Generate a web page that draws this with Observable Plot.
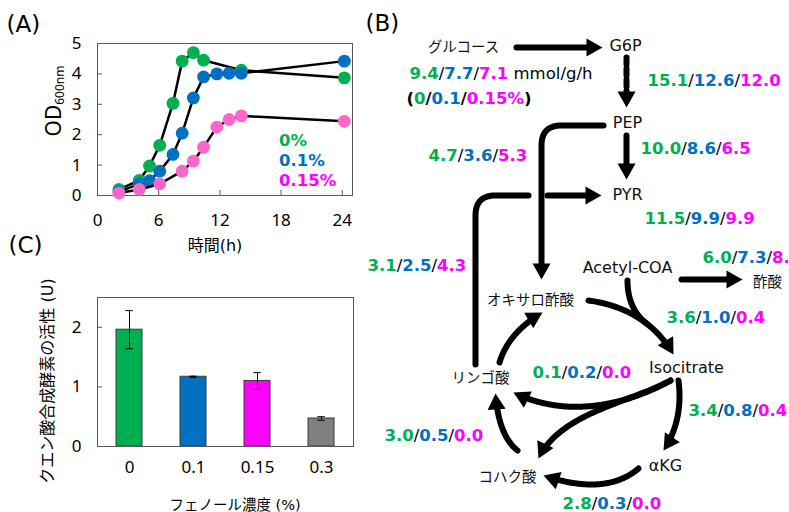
<!DOCTYPE html>
<html><head><meta charset="utf-8">
<script src="https://cdn.jsdelivr.net/npm/d3@7"></script>
<script src="https://cdn.jsdelivr.net/npm/@observablehq/plot@0.6"></script>
<style>
html,body{margin:0;padding:0;background:#fff;overflow:hidden;}
#fig{position:relative;width:789px;height:512px;overflow:hidden;background:#fff;}
#fig svg{position:absolute;max-width:none;overflow:visible;}
</style></head><body><div id="fig"></div>
<script>
// ================= Panel A: growth (OD600nm vs time) =================
const timeGreen = [2.1, 4.1, 5.1, 6.1, 7.4, 8.3, 9.4, 10.4, 14.1, 24.2];
const odGreen   = [0.2, 0.5, 0.97, 1.65, 3.03, 4.42, 4.7, 4.45, 4.12, 3.87];
const timeBlue  = [2.1, 4.1, 5.1, 6.1, 7.4, 8.3, 9.4, 10.4, 11.7, 12.9, 14.1, 24.2];
const odBlue    = [0.12, 0.38, 0.49, 0.8, 1.35, 2.05, 3.21, 3.9, 4.0, 4.02, 4.02, 4.42];
const timePink  = [2.1, 4.1, 6.1, 8.3, 9.4, 10.4, 11.7, 12.9, 14.1, 24.2];
const odPink    = [0.08, 0.2, 0.38, 0.8, 1.13, 1.59, 2.25, 2.5, 2.62, 2.44];
const seriesNamesA = ["0%", "0.1%", "0.15%"];
const xTicksA = [0, 6, 12, 18, 24];
const yTicksA = [0, 1, 2, 3, 4, 5];

// ================= Panel C: citrate synthase activity =================
const concC = ["0", "0.1", "0.15", "0.3"];
const actC  = [1.96, 1.17, 1.10, 0.47];
const errC  = [0.32, 0.01, 0.14, 0.03];
const yTicksC = [0, 1, 2];

// ================= Panel B: metabolic fluxes =================
const nodeNames = ["グルコース", "G6P", "PEP", "PYR", "Acetyl-COA", "酢酸", "オキサロ酢酸", "Isocitrate", "リンゴ酸", "αKG", "コハク酸"];
const fluxGreen = ["9.4", "15.1", "10.0", "4.7", "11.5", "3.1", "6.0", "3.6", "0.1", "3.4", "3.0", "2.8"];
const fluxBlue  = ["7.7", "12.6", "8.6", "3.6", "9.9", "2.5", "7.3", "1.0", "0.2", "0.8", "0.5", "0.3"];
const fluxPink  = ["7.1", "12.0", "6.5", "5.3", "9.9", "4.3", "8.", "0.4", "0.0", "0.4", "0.0", "0.0"];
const fluxUnit = " mmol/g/h";
const legendB = ["0", "0.1", "0.15%"];
const panelLetters = ["(A)", "(B)", "(C)"];

// ---------- styles / layout (kept separate from the values) ----------
const GREEN = "#00B050", BLUE = "#0070C0", MAGENTA = "#FF00FF", PINKDOT = "#FF66CC", GRAY = "#808080";
const dotColorsA = [GREEN, BLUE, PINKDOT];
const textColorsA = [GREEN, BLUE, MAGENTA];
const barColorsC = [GREEN, BLUE, MAGENTA, GRAY];
const FLAT = '"DejaVu Sans"';
const FJP = '"DejaVu Sans","Noto Sans CJK JP"';
const FTICK = '"Noto Sans","DejaVu Sans"';

// diagram layout (pixel positions of the figure)
const nodePos = [[463,47],[625,45],[627,122],[627,194],[627,267],[767,282],[530,300],[686,367],[480,378],[665,465],[507,477]];
const fluxPos = [[409,73],[647,80],[640,148],[428,155],[644,218],[367,265],[702,257],[666,317],[532,372],[688,410],[384,435],[562,503]];
const legendPos = [406,98];
const letterPos = [[6,24],[365,23],[8,245]];
const straightEdges = [
  {v:[[516,47],[602,47]], arrow:true},
  {v:[[626,57],[626,107]], arrow:true, dash:true},
  {v:[[626,135],[626,179]], arrow:true},
  {v:[[603,125],[541,125],[541,279]], arrow:true},
  {v:[[475,364],[475,195],[528,195]], arrow:false},
  {v:[[547,195],[601,195]], arrow:true},
  {v:[[681,279],[742,279]], arrow:true}
];
const curveEdges = [ // bezier control polygons (quadratic or cubic)
  {q:[[588,300],[646,308],[673,354]], arrow:true},
  {q:[[627,280],[627,308],[646,323]], arrow:false},
  {q:[[499,362],[508,332],[542,312]], arrow:true},
  {q:[[670,380],[630,402],[570,420],[513,392]], arrow:true},
  {q:[[670,380],[630,402],[560,412],[538,458]], arrow:true},
  {q:[[678,380],[683,420],[663,450]], arrow:true},
  {q:[[638,468],[605,496],[543,475]], arrow:true},
  {q:[[517,450],[498,435],[495,393]], arrow:true}
];
const HEAD_L = 16, HEAD_W = 9, TRIM = 13, CORNER = 20;

const fig = document.getElementById("fig");

// ---------------- geometry helpers ----------------
function bez(P, t) {
  if (P.length === 3) {
    const [p0, c, p1] = P;
    return [(1-t)*(1-t)*p0[0] + 2*(1-t)*t*c[0] + t*t*p1[0], (1-t)*(1-t)*p0[1] + 2*(1-t)*t*c[1] + t*t*p1[1]];
  }
  const [p0, c1, c2, p1] = P, u = 1 - t;
  const a = u*u*u, b = 3*u*u*t, c = 3*u*t*t, d = t*t*t;
  return [a*p0[0] + b*c1[0] + c*c2[0] + d*p1[0], a*p0[1] + b*c1[1] + c*c2[1] + d*p1[1]];
}
function roundPoly(v, r) {
  const out = [v[0]];
  for (let i = 1; i < v.length - 1; i++) {
    const p = v[i-1], c = v[i], n = v[i+1];
    const d1 = Math.hypot(c[0]-p[0], c[1]-p[1]), d2 = Math.hypot(n[0]-c[0], n[1]-c[1]);
    const a = [c[0] - (c[0]-p[0])/d1*r, c[1] - (c[1]-p[1])/d1*r];
    const b = [c[0] + (n[0]-c[0])/d2*r, c[1] + (n[1]-c[1])/d2*r];
    for (let k = 0; k <= 16; k++) out.push(bez([a, c, b], k/16));
  }
  out.push(v[v.length-1]);
  return out;
}
const angleOf = (dx, dy) => Math.atan2(dx, -dy) * 180 / Math.PI;

const lineRows = [], dashRows = [], heads = [];
straightEdges.forEach((e, i) => {
  let pts = roundPoly(e.v, CORNER);
  if (e.arrow) {
    const tip = e.v[e.v.length-1], prev = e.v[e.v.length-2];
    const d = Math.hypot(tip[0]-prev[0], tip[1]-prev[1]);
    const ux = (tip[0]-prev[0])/d, uy = (tip[1]-prev[1])/d;
    pts = pts.slice(0, -1).concat([[tip[0]-ux*TRIM, tip[1]-uy*TRIM]]);
    heads.push({x: tip[0], y: tip[1], angle: angleOf(ux, uy)});
  }
  (e.dash ? dashRows : lineRows).push(...pts.map(p => ({id: "s"+i, x: p[0], y: p[1]})));
});
curveEdges.forEach((e, i) => {
  const P = e.q, p1 = P[P.length-1], c = P[P.length-2];
  const pts = [];
  for (let k = 0; k <= 80; k++) {
    const p = bez(P, k/80);
    if (e.arrow && Math.hypot(p1[0]-p[0], p1[1]-p[1]) < TRIM) break;
    pts.push(p);
  }
  if (e.arrow) heads.push({x: p1[0], y: p1[1], angle: angleOf(p1[0]-c[0], p1[1]-c[1])});
  lineRows.push(...pts.map(p => ({id: "c"+i, x: p[0], y: p[1]})));
});
const headSymbol = {draw(ctx) { ctx.moveTo(0, 0); ctx.lineTo(HEAD_W, HEAD_L); ctx.lineTo(-HEAD_W, HEAD_L); ctx.closePath(); }};

// ---------------- rich (multi-colour) labels ----------------
const mctx = document.createElement("canvas").getContext("2d");
function tw(t, bold, size) { mctx.font = (bold ? "bold " : "") + size + "px " + FLAT; return mctx.measureText(t).width; }
const FS = 16.5;
const richRows = [];
function addRich(pos, parts) {
  let x = pos[0];
  parts.forEach(p => { richRows.push({x, y: pos[1], text: p.t, color: p.c, bold: p.b}); x += tw(p.t, p.b, FS); });
}
fluxGreen.forEach((g, i) => {
  const parts = [{t: g, c: GREEN, b: true}, {t: "/", c: "#000", b: false}, {t: fluxBlue[i], c: BLUE, b: true},
                 {t: "/", c: "#000", b: false}, {t: fluxPink[i], c: MAGENTA, b: true}];
  if (i === 0) parts.push({t: fluxUnit, c: "#000", b: false});
  addRich(fluxPos[i], parts);
});
addRich(legendPos, [{t: "(", c: "#000", b: true}, {t: legendB[0], c: GREEN, b: true}, {t: "/", c: "#000", b: true},
  {t: legendB[1], c: BLUE, b: true}, {t: "/", c: "#000", b: true}, {t: legendB[2], c: MAGENTA, b: true}, {t: ")", c: "#000", b: true}]);

const nodeRows = nodeNames.map((n, i) => ({x: nodePos[i][0], y: nodePos[i][1], text: n, size: /[A-Za-z]/.test(n) ? 16 : 14.5}));
const letterRows = panelLetters.map((t, i) => ({x: letterPos[i][0], y: letterPos[i][1], text: t}));

const plotB = Plot.plot({
  width: 789, height: 512, margin: 0,
  x: {domain: [0, 789], range: [0, 789], axis: null},
  y: {domain: [0, 512], range: [0, 512], axis: null},
  color: {type: "identity"},
  style: {background: "transparent", overflow: "visible"},
  marks: [
    Plot.line(lineRows, {x: "x", y: "y", z: "id", stroke: "#000", strokeWidth: 6, curve: "linear", strokeLinejoin: "round"}),
    Plot.line(dashRows, {x: "x", y: "y", z: "id", stroke: "#000", strokeWidth: 6, strokeDasharray: "7,4", curve: "linear"}),
    Plot.dot(heads, {x: "x", y: "y", rotate: "angle", symbol: headSymbol, r: 5, fill: "#000", stroke: "none"}),
    Plot.text(nodeRows, {x: "x", y: "y", text: "text", fontSize: "size", fill: "#111", fontFamily: FJP, textAnchor: "middle"}),
    Plot.text(richRows.filter(d => d.bold), {x: "x", y: "y", text: "text", fill: "color", fontSize: FS, fontWeight: "bold", fontFamily: FLAT, textAnchor: "start"}),
    Plot.text(richRows.filter(d => !d.bold), {x: "x", y: "y", text: "text", fill: "color", fontSize: FS, fontFamily: FLAT, textAnchor: "start"}),
    Plot.text(letterRows, {x: "x", y: "y", text: "text", fontSize: 23, fontFamily: FLAT, fill: "#000", textAnchor: "start"})
  ]
});
plotB.style.left = "0px"; plotB.style.top = "0px";
fig.appendChild(plotB);

// ---------------- Panel A plot ----------------
const seriesA = [[timeGreen, odGreen], [timeBlue, odBlue], [timePink, odPink]].map(([t, od], i) =>
  t.map((tt, j) => ({series: seriesNamesA[i], t: tt, od: od[j], color: dotColorsA[i]})));
const plotA = Plot.plot({
  width: 370, height: 260, marginLeft: 97, marginRight: 18, marginTop: 43, marginBottom: 65,
  x: {domain: [0, 25]}, y: {domain: [0, 5]},
  color: {type: "identity"},
  style: {background: "transparent", fontFamily: FTICK, fontSize: "17px", color: "#000", overflow: "visible"},
  marks: [
    Plot.axisY(yTicksA, {tickSize: -5, tickPadding: 21, label: null, stroke: "#595959", fill: "#000", tickFormat: d => String(d)}),
    Plot.axisX(xTicksA, {tickSize: -5, tickPadding: 23, label: null, stroke: "#595959", fill: "#000", tickFormat: d => String(d)}),
    Plot.frame({stroke: "#595959"}),
    ...seriesA.flatMap(rows => [
      Plot.line(rows, {x: "t", y: "od", stroke: "#000", strokeWidth: 2.5}),
      Plot.dot(rows, {x: "t", y: "od", r: 6.4, fill: "color", stroke: "none"})
    ])
  ]
});
plotA.style.left = "0px"; plotA.style.top = "0px";
fig.appendChild(plotA);
{
  const s = d3.select(plotA);
  const t = s.append("text").attr("transform", "translate(61,101) rotate(-90)").attr("text-anchor", "middle")
    .attr("font-family", FTICK).attr("font-size", 21).attr("fill", "#000");
  t.append("tspan").text("OD");
  t.append("tspan").attr("dy", 3).attr("font-size", 12).text("600nm");
  s.append("text").attr("x", 215).attr("y", 245).attr("dy", "0.35em").attr("text-anchor", "middle")
    .attr("font-family", FJP).attr("font-size", 16).attr("fill", "#000").text("時間(h)");
  seriesNamesA.forEach((n, i) => s.append("text").attr("x", 279).attr("y", 140 + 20*i).attr("dy", "0.35em")
    .attr("text-anchor", "start").attr("font-family", FLAT).attr("font-weight", "bold").attr("font-size", 16.5)
    .attr("fill", textColorsA[i]).text(n));
}

// ---------------- Panel C plot ----------------
const rowsC = concC.map((c, i) => ({conc: c, act: actC[i], err: errC[i], color: barColorsC[i]}));
const plotC = Plot.plot({
  width: 380, height: 282, marginLeft: 97, marginRight: 27, marginTop: 67, marginBottom: 66,
  x: {domain: concC, paddingInner: 0.6, paddingOuter: 0.3},
  y: {domain: [0, 2.5]},
  color: {type: "identity"},
  style: {background: "transparent", fontFamily: FTICK, fontSize: "17px", color: "#000", overflow: "visible"},
  marks: [
    Plot.barY(rowsC, {x: "conc", y: "act", fill: "color", stroke: "#3a3a3a", strokeWidth: 1}),
    Plot.ruleX(rowsC, {x: "conc", y1: d => d.act - d.err, y2: d => d.act + d.err, stroke: "#000", strokeWidth: 1}),
    Plot.tickY(rowsC, {x: "conc", y: d => d.act + d.err, stroke: "#000", insetLeft: 9.3, insetRight: 9.3}),
    Plot.tickY(rowsC, {x: "conc", y: d => d.act - d.err, stroke: "#000", insetLeft: 9.3, insetRight: 9.3}),
    Plot.frame({stroke: "#595959"}),
    Plot.axisY(yTicksC, {tickSize: -5, tickPadding: 21, label: null, stroke: "#595959", fill: "#000", tickFormat: d => String(d)}),
    Plot.axisX({tickSize: 0, tickPadding: 14, label: null, fill: "#000"})
  ]
});
plotC.style.left = "0px"; plotC.style.top = "230px";
fig.appendChild(plotC);
{
  const s = d3.select(plotC);
  s.append("text").attr("transform", "translate(53,151) rotate(-90)").attr("text-anchor", "middle")
    .attr("font-family", FJP).attr("font-size", 16).attr("fill", "#000").text("クエン酸合成酵素の活性 (U)");
  s.append("text").attr("x", 235).attr("y", 275).attr("dy", "0.35em").attr("text-anchor", "middle")
    .attr("font-family", FJP).attr("font-size", 14.5).attr("fill", "#000").text("フェノール濃度 (%)");
}
</script></body></html>
